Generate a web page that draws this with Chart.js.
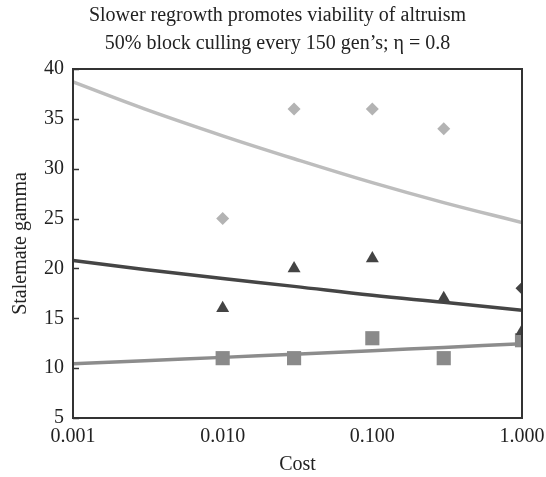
<!DOCTYPE html>
<html>
<head>
<meta charset="utf-8">
<script src="https://cdn.jsdelivr.net/npm/chart.js@4.4.0/dist/chart.umd.min.js"></script>
<style>
  html, body { margin: 0; padding: 0; background: #fff; }
  #wrap { width: 546px; height: 477px; }
</style>
</head>
<body>
<div id="wrap"><canvas id="chart" width="546" height="477"></canvas></div>
<script>
// datos
const costs = [0.01, 0.03, 0.1, 0.3];
const diamondVals = [25, 36, 36, 34];
const triangleCosts = [0.01, 0.03, 0.1, 0.3, 1];
const triangleVals = [16, 20, 21, 17, 13.7];
const squareCosts = [0.01, 0.03, 0.1, 0.3, 1];
const squareVals = [11, 11, 13, 11, 12.8];
const edgeDiamondCost = [1];
const edgeDiamondVal = [18];

// curvas de tendencia
const trendCosts = [0.001, 0.003, 0.01, 0.03, 0.1, 0.3, 1];
const trendLight = [38.7, 36.0, 33.3, 31.0, 28.6, 26.6, 24.6];
const trendDark = [20.8, 19.9, 19.0, 18.2, 17.3, 16.6, 15.8];
const trendGray = [10.45, 10.75, 11.08, 11.39, 11.75, 12.08, 12.45];

const xTicks = [0.001, 0.01, 0.1, 1];
const yTicks = [5, 10, 15, 20, 25, 30, 35, 40];

const pts = (xs, ys) => xs.map((x, i) => ({ x: x, y: ys[i] }));
const FONT = "'Liberation Serif', 'Times New Roman', serif";

const frame = {
  id: 'frame',
  afterDatasetsDraw(chart) {
    const a = chart.chartArea;
    const c = chart.ctx;
    const y = chart.scales.y;
    c.save();
    c.strokeStyle = '#333';
    c.lineWidth = 2;
    c.strokeRect(a.left, a.top, a.right - a.left, a.bottom - a.top);
    c.lineWidth = 1.5;
    yTicks.forEach(v => {
      const py = Math.round(y.getPixelForValue(v)) + 0.5;
      c.beginPath();
      c.moveTo(a.left, py);
      c.lineTo(a.left + 6, py);
      c.stroke();
    });
    c.restore();
  }
};

const line = (data, color) => ({
  type: 'line', data: data, borderColor: color, borderWidth: 3.5,
  pointRadius: 0, tension: 0.4, fill: false, clip: 0, order: 2
});
const scat = (data, style, color, r) => ({
  type: 'scatter', data: data, pointStyle: style, pointRadius: r,
  pointHoverRadius: r, backgroundColor: color, borderColor: color,
  borderWidth: 0, clip: 0, order: 1
});

new Chart(document.getElementById('chart'), {
  type: 'scatter',
  data: {
    datasets: [
      line(pts(trendCosts, trendLight), '#bdbdbd'),
      line(pts(trendCosts, trendDark), '#454545'),
      line(pts(trendCosts, trendGray), '#8c8c8c'),
      scat(pts(costs, diamondVals), 'rectRot', '#b3b3b3', 6.5),
      scat(pts(triangleCosts, triangleVals), 'triangle', '#444', 7.5),
      scat(pts(squareCosts, squareVals), 'rect', '#8a8a8a', 10),
      scat(pts(edgeDiamondCost, edgeDiamondVal), 'rectRot', '#444', 6.5)
    ]
  },
  options: {
    responsive: false,
    animation: false,
    events: [],
    layout: { padding: { left: 9, right: 0, top: 0, bottom: 0 } },
    plugins: {
      legend: { display: false },
      tooltip: { enabled: false },
      title: {
        display: true,
        text: ['Slower regrowth promotes viability of altruism',
               '50% block culling every 150 gen\u2019s; \u03b7 = 0.8'],
        color: '#222',
        font: { family: FONT, size: 20, weight: 'normal', lineHeight: 1.4 },
        padding: { top: 2, bottom: 11 }
      }
    },
    scales: {
      x: {
        type: 'logarithmic',
        min: 0.001, max: 1,
        afterBuildTicks: s => { s.ticks = xTicks.map(v => ({ value: v })); },
        afterFit: s => { s.height = 59; s.paddingRight = 24; },
        grid: { display: false, drawTicks: false },
        border: { display: false },
        ticks: {
          color: '#222', padding: 7, maxRotation: 0,
          font: { family: FONT, size: 20 },
          callback: v => Number(v).toFixed(3)
        },
        title: {
          display: true, text: 'Cost', color: '#222',
          font: { family: FONT, size: 20 }, padding: { top: 0, bottom: 0 }
        }
      },
      y: {
        min: 5, max: 40,
        afterBuildTicks: s => { s.ticks = yTicks.map(v => ({ value: v })); },
        afterFit: s => { s.width = 64; },
        grid: { display: false, drawTicks: false },
        border: { display: false },
        ticks: {
          color: '#222', padding: 9,
          font: { family: FONT, size: 20 }
        },
        title: {
          display: true, text: 'Stalemate gamma', color: '#222',
          font: { family: FONT, size: 20 }, padding: { top: 0, bottom: 4 }
        }
      }
    }
  },
  plugins: [frame]
});
</script>
</body>
</html>
